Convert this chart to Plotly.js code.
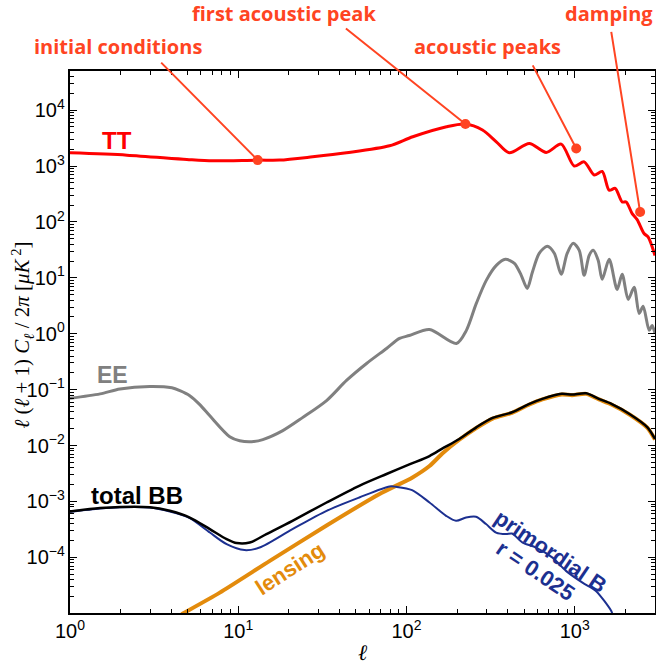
<!DOCTYPE html>
<html><head><meta charset="utf-8">
<script src="https://cdn.plot.ly/plotly-3.0.1.min.js"></script>
<style>html,body{margin:0;padding:0;background:#fff}</style>
</head><body><div id="chart" style="width:656px;height:665px"></div>
<script>
// ---- data ----
const ttEll = [1, 2.18, 4.95, 7.06, 13.05, 17.6, 27.7, 44, 79.3, 109, 173, 224, 283, 342, 408, 537, 677, 831, 993, 1138, 1305, 1456, 1602, 1740, 1914, 2022, 2195, 2350, 2583, 2729, 3000];
const ttVal = [1725, 1567, 1312, 1239, 1276, 1276, 1462, 1725, 2300, 3337, 5042, 5636, 4399, 2716, 1725, 2541, 1754, 2467, 1000, 1189, 690, 800, 370, 398, 228, 228, 141, 110, 62, 54, 25];

const eeEll = [1, 1.51, 1.98, 2.98, 4.03, 4.5, 5.15, 5.91, 6.78, 8.9, 10.2, 12.0, 14.0, 18.4, 24.1, 33.5, 44, 57.9, 76.1, 90.9, 104, 137, 198, 227, 260, 298, 342, 387, 438, 481, 522, 560, 615, 687, 756, 831, 902, 980, 1064, 1138, 1219, 1288, 1378, 1456, 1602, 1787, 1914, 2078, 2255, 2415, 2551, 2769, 2884, 3000];
const eeVal = [0.070, 0.084, 0.103, 0.114, 0.108, 0.096, 0.078, 0.054, 0.034, 0.0144, 0.0122, 0.0117, 0.0128, 0.0185, 0.0316, 0.0638, 0.146, 0.294, 0.545, 0.824, 0.93, 1.19, 0.67, 1.15, 3.49, 9.02, 16.7, 21.5, 18.2, 11.1, 6.48, 12.6, 27.5, 36.7, 27.5, 11.6, 27.5, 41.5, 31.1, 11.1, 25.3, 31.1, 20.6, 9.4, 21.5, 6.22, 11.6, 4.12, 6.76, 2.31, 3.09, 1.15, 1.41, 1.01];

const bbEll = [1, 1.51, 1.98, 2.98, 3.92, 5.15, 6.78, 8.53, 9.79, 11.7, 14.7, 21, 33.5, 52.4, 76.1, 104, 137, 163, 206, 260, 325, 424, 538, 642, 837, 964, 1170, 1392, 1652, 2115, 2705, 3000];
const bbVal = [6.62e-4, 7.62e-4, 8.0e-4, 7.9e-4, 6.8e-4, 5.16e-4, 3.2e-4, 2.12e-4, 1.80e-4, 1.84e-4, 2.61e-4, 4.51e-4, 9.59e-4, 1.91e-3, 3.10e-3, 4.6e-3, 6.5e-3, 8.8e-3, 0.0131, 0.0212, 0.0312, 0.0394, 0.0557, 0.0684, 0.0841, 0.0817, 0.0861, 0.0684, 0.0557, 0.0368, 0.0212, 0.0131];

const lensEll = [4.6, 7.77, 15.4, 33.5, 69.2, 108.6, 137, 164, 206, 260, 325, 424, 538, 642, 837, 964, 1170, 1392, 1652, 2115, 2705, 3000];
const lensVal = [9.6e-6, 2.34e-5, 8.65e-5, 3.72e-4, 1.36e-3, 2.69e-3, 4.3e-3, 7.3e-3, 0.0127, 0.0206, 0.0304, 0.0385, 0.0543, 0.0668, 0.0822, 0.0798, 0.0840, 0.0668, 0.0543, 0.0359, 0.0207, 0.0128];

const primEll = [1, 1.51, 1.98, 2.98, 3.92, 5.15, 6.78, 8.53, 10.9, 13.4, 21, 33.5, 52.4, 79.3, 86.9, 108, 137, 172, 197, 226, 259, 297, 341, 391, 424, 490, 589, 738, 887, 1112, 1336, 1640, 1670];
const primVal = [6.55e-4, 7.5e-4, 7.9e-4, 7.8e-4, 6.6e-4, 5.04e-4, 2.78e-4, 1.72e-4, 1.35e-4, 1.50e-4, 3.2e-4, 6.81e-4, 1.18e-3, 1.86e-3, 1.83e-3, 1.6e-3, 9.59e-4, 5.54e-4, 4.51e-4, 5.16e-4, 5.32e-4, 3.94e-4, 2.78e-4, 2.61e-4, 2.67e-4, 1.84e-4, 1.50e-4, 9.9e-5, 5.73e-5, 3.53e-5, 2.51e-5, 1.13e-5, 1.0e-5];

const noteText = ['initial conditions', 'first acoustic peak', 'acoustic peaks', 'damping'];
const noteEll = [13.05, 224, 1021, 2447];
const noteVal = [1276, 5636, 2066, 151];

const curveLabels = ['TT', 'EE', 'total BB', 'lensing', 'primordial B', 'r = 0.025'];
const tickAlias = {'1': '10<sup>0</sup>', '10': '10<sup>1</sup>'};
const yTitle = '<i>ℓ</i> (<i>ℓ</i> + 1) <i>C</i><sub><i>ℓ</i></sub> / 2<i>π</i> [<i>μK</i><sup> 2</sup>]';
const xTitle = '<i>ℓ</i>';

// ---- styles / positions (not data) ----
const RED = '#ff0000', NOTE = '#ff4422', GRAY = '#808080', ORANGE = '#e38b0c', BLUE = '#1c3090';
const notePos = [[0.0812, 1.046], [0.366, 1.106], [0.7145, 1.046], [0.921, 1.106]];
const leader = [[-97, -98], [-120, -96], [-44, -84], [-29, -181]];
const labelStyle = [
  {x: 0.0803, y: 0.872, color: RED, angle: 0, size: 24},
  {x: 0.0718, y: 0.439, color: GRAY, angle: 0, size: 23},
  {x: 0.1145, y: 0.216, color: '#000', angle: 0, size: 24},
  {x: 0.376, y: 0.083, color: ORANGE, angle: -33, size: 22},
  {x: 0.822, y: 0.114, color: BLUE, angle: 34, size: 22},
  {x: 0.795, y: 0.0775, color: BLUE, angle: 34, size: 22}
];

const traces = [
  {x: ttEll, y: ttVal, mode: 'lines', line: {color: RED, width: 3, shape: 'spline', smoothing: 0.8}},
  {x: eeEll, y: eeVal, mode: 'lines', line: {color: GRAY, width: 3, shape: 'spline', smoothing: 0.8}},
  {x: lensEll, y: lensVal, mode: 'lines', line: {color: ORANGE, width: 4, shape: 'spline', smoothing: 0.6}},
  {x: primEll, y: primVal, mode: 'lines', line: {color: BLUE, width: 2, shape: 'spline', smoothing: 0.8}},
  {x: bbEll, y: bbVal, mode: 'lines', line: {color: '#000', width: 2.5, shape: 'spline', smoothing: 0.8}},
  {x: noteEll, y: noteVal, mode: 'markers', marker: {color: NOTE, size: 10}}
];
traces.forEach(t => { t.hoverinfo = 'skip'; t.showlegend = false; });

function axis(extra) {
  return Object.assign({
    type: 'log', showline: true, linecolor: '#000', linewidth: 2, mirror: 'allticks',
    ticks: 'inside', ticklen: 7, tickwidth: 1, tickcolor: '#000',
    showgrid: false, zeroline: false, dtick: 1, exponentformat: 'power',
    labelalias: tickAlias,
    tickfont: {family: 'Liberation Sans, Arial, sans-serif', size: 16, color: '#000'},
    minor: {ticks: 'inside', ticklen: 4, tickwidth: 1, tickcolor: '#000', showgrid: false, dtick: 'D1'}
  }, extra);
}

const annotations = [];
noteText.forEach((t, i) => {
  annotations.push({x: Math.log10(noteEll[i]), y: Math.log10(noteVal[i]), xref: 'x', yref: 'y',
    text: ' ', font: {size: 1}, borderpad: 0, showarrow: true, arrowhead: 0, arrowwidth: 2,
    arrowcolor: NOTE, ax: leader[i][0], ay: leader[i][1], standoff: 0});
  annotations.push({x: notePos[i][0], y: notePos[i][1], xref: 'paper', yref: 'paper', text: t,
    showarrow: false, xanchor: 'center', yanchor: 'middle',
    font: {family: 'Open Sans, sans-serif', size: 20, color: NOTE, weight: 700}});
});
curveLabels.forEach((t, i) => {
  const s = labelStyle[i];
  annotations.push({x: s.x, y: s.y, xref: 'paper', yref: 'paper', text: t, showarrow: false,
    xanchor: 'center', yanchor: 'middle', textangle: s.angle,
    font: {family: 'Liberation Sans, Arial, sans-serif', size: s.size, color: s.color, weight: 700}});
});
// y-axis title placed as a rotated text beside the axis
annotations.push({x: -0.081, y: 0.513, xref: 'paper', yref: 'paper', text: yTitle, showarrow: false,
  xanchor: 'center', yanchor: 'middle', textangle: -90,
  font: {family: 'Liberation Serif, serif', size: 21, color: '#000'}});

const layout = {
  width: 656, height: 665,
  margin: {l: 70, r: 1, t: 71, b: 52},
  paper_bgcolor: '#fff', plot_bgcolor: '#fff',
  showlegend: false,
  xaxis: axis({range: [0, Math.log10(3000)],
    title: {text: xTitle, font: {family: 'Liberation Serif, serif', size: 22, color: '#000'}, standoff: 4}}),
  yaxis: axis({range: [-4.995, 4.7]}),
  annotations: annotations
};

Plotly.newPlot('chart', traces, layout, {staticPlot: true, displayModeBar: false});
</script>
</body></html>
